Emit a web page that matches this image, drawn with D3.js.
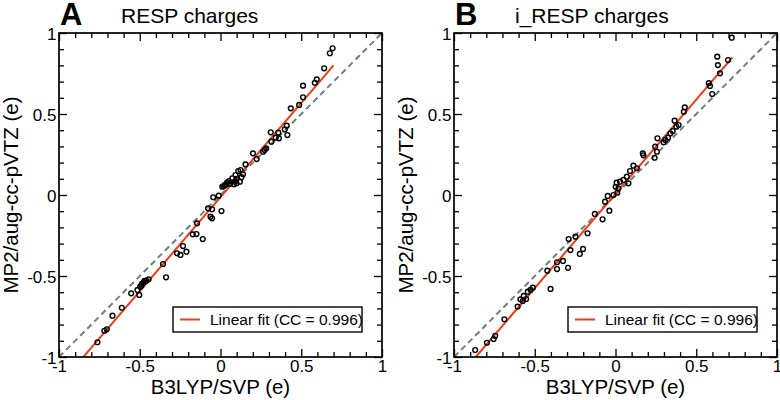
<!DOCTYPE html>
<html>
<head>
<meta charset="utf-8">
<script src="https://cdn.jsdelivr.net/npm/d3@7"></script>
<style>
  html, body { margin: 0; padding: 0; background: #fff; }
  svg { display: block; font-family: "Liberation Sans", Arial, Helvetica, sans-serif; }
</style>
</head>
<body>
<svg id="chart" width="780" height="400"></svg>
<script>
// ---------- DATA ----------
const panelLetters = ["A", "B"];
const panelTitles = ["RESP charges", "i_RESP charges"];
const xAxisTitle = "B3LYP/SVP (e)";
const yAxisTitle = "MP2/aug-cc-pVTZ (e)";
const legendLabel = "Linear fit (CC = 0.996)";
const majorTicks = [-1, -0.5, 0, 0.5, 1];
const minorTicks = [-0.9, -0.8, -0.7, -0.6, -0.4, -0.3, -0.2, -0.1, 0.1, 0.2, 0.3, 0.4, 0.6, 0.7, 0.8, 0.9];

// Panel A (RESP)
const respX = [0.694, 0.677, 0.642, 0.596, 0.584, 0.511, 0.511, 0.487, 0.435, 0.410, 0.398, 0.414, 0.358, 0.311, 0.342, 0.315, 0.362,
  0.273, 0.283, 0.264, 0.201, 0.224, 0.155, 0.139, 0.124, 0.110, 0.093, 0.120, 0.099, 0.083, 0.073, 0.052, 0.042, 0.027, 0.011, 0.020,
  0.060, 0.035, 0.100, 0.130, 0.090, -0.045, -0.011,
  -0.077, -0.052, -0.062, -0.052, 0.006, -0.145, -0.172, -0.149, -0.110, -0.232, -0.211, -0.269, -0.248, -0.356, -0.337,
  -0.445, -0.460, -0.476, -0.487, -0.497, -0.514, -0.503, -0.553, -0.611, -0.669, -0.704, -0.719, -0.762, -0.470, -0.490];
const respY = [0.906, 0.875, 0.782, 0.714, 0.693, 0.675, 0.603, 0.556, 0.535, 0.428, 0.405, 0.370, 0.385, 0.387, 0.354, 0.329, 0.350,
  0.278, 0.288, 0.267, 0.257, 0.222, 0.189, 0.128, 0.154, 0.148, 0.123, 0.082, 0.072, 0.066, 0.103, 0.086, 0.078, 0.062, 0.051, 0.055,
  0.070, 0.065, 0.100, 0.110, 0.085, -0.014, -0.004,
  -0.082, -0.088, -0.134, -0.144, -0.099, -0.175, -0.243, -0.241, -0.272, -0.315, -0.350, -0.360, -0.370, -0.426, -0.508,
  -0.520, -0.529, -0.541, -0.549, -0.566, -0.586, -0.617, -0.607, -0.696, -0.745, -0.829, -0.838, -0.909, -0.530, -0.560];

// Panel B (i_RESP)
const irespX = [0.720, 0.630, 0.634, 0.647, 0.697, 0.578, 0.585, 0.599, 0.429, 0.423, 0.366, 0.391, 0.377, 0.354, 0.340, 0.325, 0.308, 0.298,
  0.260, 0.246, 0.257, 0.242, 0.169, 0.173, 0.111, 0.132, 0.090, 0.080, 0.070, 0.049, 0.028, 0.007, 0.001, 0.018, -0.013, -0.048, -0.065, 0.011,
  -0.038, -0.128, -0.080, -0.173, -0.248, -0.290, -0.279, -0.201, -0.221, -0.325, -0.362, -0.362, -0.294, -0.422, -0.402,
  -0.512, -0.526, -0.543, -0.568, -0.553, -0.589, -0.574, -0.606, -0.688, -0.745, -0.755, -0.796, -0.869];
const irespY = [0.971, 0.854, 0.802, 0.751, 0.833, 0.690, 0.673, 0.623, 0.541, 0.514, 0.459, 0.432, 0.422, 0.395, 0.381, 0.354, 0.340, 0.325,
  0.350, 0.298, 0.267, 0.230, 0.257, 0.245, 0.181, 0.165, 0.148, 0.072, 0.113, 0.093, 0.082, 0.076, 0.051, 0.041, 0.000, -0.006, -0.041, 0.014,
  -0.097, -0.117, -0.150, -0.236, -0.257, -0.272, -0.340, -0.333, -0.364, -0.407, -0.415, -0.457, -0.449, -0.467, -0.580,
  -0.572, -0.586, -0.597, -0.623, -0.642, -0.644, -0.654, -0.689, -0.767, -0.869, -0.889, -0.912, -0.957];

// Linear fits: slope, intercept, x extent
const fitSlopes = [1.162, 1.164];
const fitIntercepts = [-0.013, 0.007];
const fitXStart = [-0.85, -0.865];
const fitXEnd = [0.70, 0.724];

// ---------- DRAW ----------
const svg = d3.select("#chart");
const panels = [
  { left: 59, xs: respX, ys: respY },
  { left: 454, xs: irespX, ys: irespY }
];
const plotW = 323, plotTop = 33, plotBottom = 357;
const fmt = d => String(d);

panels.forEach((p, i) => {
  const x = d3.scaleLinear().domain([-1, 1]).range([p.left, p.left + plotW]);
  const y = d3.scaleLinear().domain([-1, 1]).range([plotBottom, plotTop]);
  const g = svg.append("g");

  const clipId = "clip" + i;
  svg.append("clipPath").attr("id", clipId).append("rect")
    .attr("x", p.left).attr("y", plotTop).attr("width", plotW).attr("height", plotBottom - plotTop);

  // diagonal y = x
  g.append("line")
    .attr("clip-path", `url(#${clipId})`)
    .attr("x1", x(-1)).attr("y1", y(-1)).attr("x2", x(1)).attr("y2", y(1))
    .attr("stroke", "#6f7f80").attr("stroke-width", 2).attr("stroke-dasharray", "6,4");

  // fit line
  const fx0 = fitXStart[i], fx1 = fitXEnd[i];
  g.append("line")
    .attr("clip-path", `url(#${clipId})`)
    .attr("x1", x(fx0)).attr("y1", y(fitSlopes[i] * fx0 + fitIntercepts[i]))
    .attr("x2", x(fx1)).attr("y2", y(fitSlopes[i] * fx1 + fitIntercepts[i]))
    .attr("stroke", "#f03c14").attr("stroke-width", 2);

  // points
  g.selectAll("circle.pt").data(p.xs.map((v, k) => [v, p.ys[k]])).enter()
    .append("circle").attr("class", "pt")
    .attr("cx", d => x(d[0])).attr("cy", d => y(d[1])).attr("r", 2.4)
    .attr("fill", "none").attr("stroke", "#000").attr("stroke-width", 1.4);

  // axes
  const styleAxis = (sel, labels) => {
    sel.select(".domain").remove();
    sel.selectAll(".tick line").attr("stroke", "#000").attr("stroke-width", 1.3);
    sel.selectAll(".tick text").attr("fill", "#000").style("font-size", "17px")
      .style("font-family", "'Liberation Sans', Arial, sans-serif");
    if (!labels) sel.selectAll(".tick text").remove();
  };
  g.append("g").attr("transform", `translate(0,${plotBottom})`)
    .call(d3.axisBottom(x).tickValues(majorTicks).tickFormat(fmt).tickSize(-8).tickPadding(3))
    .call(s => styleAxis(s, true));
  g.append("g").attr("transform", `translate(0,${plotBottom})`)
    .call(d3.axisBottom(x).tickValues(minorTicks).tickFormat("").tickSize(-5))
    .call(s => styleAxis(s, false));
  g.append("g").attr("transform", `translate(0,${plotTop})`)
    .call(d3.axisTop(x).tickValues(majorTicks).tickFormat("").tickSize(-8))
    .call(s => styleAxis(s, false));
  g.append("g").attr("transform", `translate(0,${plotTop})`)
    .call(d3.axisTop(x).tickValues(minorTicks).tickFormat("").tickSize(-5))
    .call(s => styleAxis(s, false));
  g.append("g").attr("transform", `translate(${p.left},0)`)
    .call(d3.axisLeft(y).tickValues(majorTicks).tickFormat(fmt).tickSize(-8).tickPadding(2.5))
    .call(s => styleAxis(s, true))
    .call(s => s.selectAll(".tick text").attr("dy", "0.36em"));
  g.append("g").attr("transform", `translate(${p.left},0)`)
    .call(d3.axisLeft(y).tickValues(minorTicks).tickFormat("").tickSize(-5))
    .call(s => styleAxis(s, false));
  g.append("g").attr("transform", `translate(${p.left + plotW},0)`)
    .call(d3.axisRight(y).tickValues(majorTicks).tickFormat("").tickSize(-8))
    .call(s => styleAxis(s, false));
  g.append("g").attr("transform", `translate(${p.left + plotW},0)`)
    .call(d3.axisRight(y).tickValues(minorTicks).tickFormat("").tickSize(-5))
    .call(s => styleAxis(s, false));

  // frame
  g.append("rect").attr("x", p.left).attr("y", plotTop).attr("width", plotW).attr("height", plotBottom - plotTop)
    .attr("fill", "none").attr("stroke", "#000").attr("stroke-width", 1.7);

  // legend
  const lx = p.left + 114, ly = 307, lw = 189, lh = 25;
  g.append("rect").attr("x", lx).attr("y", ly).attr("width", lw).attr("height", lh)
    .attr("fill", "#fff").attr("stroke", "#000").attr("stroke-width", 1.4);
  g.append("line").attr("x1", lx + 7).attr("x2", lx + 27).attr("y1", ly + 12.5).attr("y2", ly + 12.5)
    .attr("stroke", "#f03c14").attr("stroke-width", 2);
  g.append("text").attr("x", lx + 37).attr("y", ly + 18)
    .style("font-size", "15.5px").attr("fill", "#000").text(legendLabel);

  // titles
  g.append("text").attr("x", p.left + 1).attr("y", 25)
    .style("font-size", "31px").style("font-weight", "bold").text(panelLetters[i]);
  g.append("text").attr("x", p.left + (i === 0 ? 62 : 61)).attr("y", 23)
    .style("font-size", "21px").text(panelTitles[i]);

  // axis titles
  g.append("text").attr("x", x(0)).attr("y", 394).attr("text-anchor", "middle")
    .style("font-size", "20.5px").text(xAxisTitle);
  g.append("text").attr("transform", `translate(${p.left - 41},${(plotTop + plotBottom) / 2}) rotate(-90)`)
    .attr("text-anchor", "middle").style("font-size", "20.5px").text(yAxisTitle);
});
</script>
</body>
</html>
